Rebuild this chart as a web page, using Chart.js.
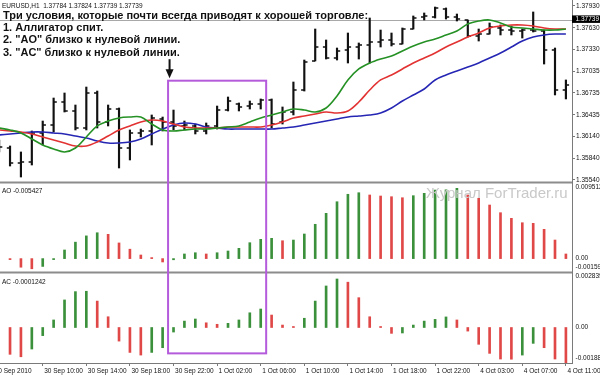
<!DOCTYPE html>
<html><head><meta charset="utf-8">
<script src="https://cdn.jsdelivr.net/npm/chart.js@4.4.1/dist/chart.umd.min.js"></script>
<style>
html,body{margin:0;padding:0;background:#fff;}
#wrap{position:relative;width:600px;height:375px;overflow:hidden;background:#fff;}
#c{position:absolute;left:0;top:0;}
.t{position:absolute;white-space:nowrap;font-family:'Liberation Sans',Arial,sans-serif;color:#000;}
.note{font-weight:bold;font-size:11px;line-height:11px;left:3px;color:#111;}
.small{font-size:6.5px;line-height:7px;color:#111;}
.wm{font-size:15px;line-height:15px;color:#c9c9c9;}
</style></head><body>
<div id="wrap">
<canvas id="c" width="600" height="375"></canvas>
<div class="t small" style="left:2px;top:2px">EURUSD,H1&nbsp; 1.37784 1.37824 1.37739 1.37739</div>
<div class="t note" style="top:10px">Три условия, которые почти всегда приводят к хорошей торговле:</div>
<div class="t note" style="top:21.5px">1. Аллигатор спит.</div>
<div class="t note" style="top:34px">2. "AO" близко к нулевой линии.</div>
<div class="t note" style="top:46.5px">3. "AC" близко к нулевой линии.</div>
<div class="t small" style="left:2px;top:187px">AO -0.005427</div>
<div class="t small" style="left:2px;top:278px">AC -0.0001242</div>
<div class="t wm" style="left:426px;top:185px">Журнал ForTrader.ru</div>
</div>
<script>
// ---------- data (bar index 0 = 30 Sep 06:00, hourly) ----------
const openPrices  = [1.36062,1.35980,1.35773,1.35787,1.36185,1.36295,1.36611,1.36488,1.36254,1.36735,1.36337,1.36515,1.35980,1.36185,1.36213,1.36378,1.36337,1.36282,1.36282,1.36213,1.36282,1.36501,1.36584,1.36556,1.36584,1.36639,1.36337,1.36474,1.36776,1.37175,1.37367,1.37216,1.37326,1.37367,1.37394,1.37435,1.37463,1.37408,1.37614,1.37779,1.37779,1.37889,1.37779,1.37738,1.37518,1.37545,1.37628,1.37600,1.37587,1.37600,1.37587,1.37326,1.36776];
const highPrices  = [1.36089,1.36007,1.35925,1.36213,1.36350,1.36666,1.36735,1.36570,1.36817,1.36762,1.36570,1.36529,1.36227,1.36240,1.36433,1.36405,1.36501,1.36350,1.36309,1.36323,1.36556,1.36680,1.36598,1.36625,1.36653,1.36653,1.36543,1.36886,1.37188,1.37614,1.37463,1.37353,1.37559,1.37422,1.37765,1.37600,1.37559,1.37628,1.37793,1.37834,1.37916,1.37903,1.37820,1.37738,1.37614,1.37697,1.37669,1.37655,1.37614,1.37848,1.37600,1.37353,1.36914];
const lowPrices   = [1.35925,1.35732,1.35581,1.35746,1.36021,1.36199,1.36474,1.36227,1.36227,1.36254,1.36282,1.35705,1.35815,1.36131,1.36021,1.36213,1.36227,1.36227,1.36172,1.36172,1.36240,1.36488,1.36488,1.36515,1.36515,1.36254,1.36309,1.36433,1.36762,1.37175,1.37202,1.37188,1.37147,1.37202,1.37147,1.37367,1.37381,1.37408,1.37614,1.37738,1.37765,1.37751,1.37724,1.37504,1.37449,1.37545,1.37532,1.37532,1.37490,1.37573,1.37133,1.36708,1.36653];
const closePrices = [1.35993,1.35773,1.35787,1.36185,1.36295,1.36611,1.36488,1.36254,1.36735,1.36337,1.36515,1.35980,1.36185,1.36213,1.36392,1.36337,1.36282,1.36295,1.36213,1.36282,1.36501,1.36625,1.36543,1.36584,1.36639,1.36309,1.36474,1.36776,1.37161,1.37367,1.37216,1.37312,1.37367,1.37394,1.37435,1.37463,1.37408,1.37614,1.37765,1.37793,1.37903,1.37779,1.37751,1.37518,1.37545,1.37642,1.37600,1.37587,1.37600,1.37587,1.37326,1.36776,1.36845];
const lipsGreen   = [1.36254,1.36227,1.36186,1.36103,1.36021,1.35966,1.35925,1.35979,1.36131,1.36282,1.36350,1.36392,1.36405,1.36405,1.36309,1.36227,1.36213,1.36227,1.36240,1.36240,1.36254,1.36268,1.36282,1.36337,1.36392,1.36433,1.36474,1.36515,1.36501,1.36474,1.36529,1.36694,1.36914,1.37065,1.37147,1.37202,1.37243,1.37312,1.37381,1.37435,1.37477,1.37532,1.37587,1.37683,1.37724,1.37738,1.37697,1.37642,1.37628,1.37614,1.37600,1.37600,1.37614];
const teethRed    = [1.36227,1.36213,1.36199,1.36172,1.36131,1.36089,1.36048,1.36007,1.36007,1.36062,1.36144,1.36227,1.36282,1.36337,1.36364,1.36350,1.36309,1.36268,1.36254,1.36254,1.36254,1.36268,1.36268,1.36268,1.36268,1.36295,1.36337,1.36392,1.36419,1.36447,1.36474,1.36460,1.36488,1.36611,1.36776,1.36914,1.36982,1.37065,1.37147,1.37216,1.37284,1.37367,1.37435,1.37504,1.37559,1.37628,1.37655,1.37669,1.37669,1.37655,1.37628,1.37614,1.37614];
const jawBlue     = [1.36158,1.36172,1.36186,1.36199,1.36199,1.36186,1.36172,1.36144,1.36117,1.36076,1.36048,1.36048,1.36062,1.36103,1.36172,1.36240,1.36295,1.36323,1.36309,1.36268,1.36254,1.36240,1.36240,1.36240,1.36240,1.36240,1.36254,1.36268,1.36295,1.36323,1.36350,1.36378,1.36405,1.36419,1.36433,1.36460,1.36529,1.36625,1.36708,1.36790,1.36914,1.36982,1.37037,1.37092,1.37147,1.37216,1.37284,1.37367,1.37449,1.37504,1.37532,1.37545,1.37545];
const aoValues    = [null,-0.0001,-0.0011,-0.0013,-0.0010,-0.0001,0.0011,0.0021,0.0029,0.0033,0.0031,0.0020,0.0012,0.00046,0.00002,-0.00043,-0.00015,0.00059,0.00075,0.00059,0.00075,0.00097,0.00131,0.00203,0.00246,0.00259,0.00228,0.00237,0.00314,0.00438,0.00578,0.00726,0.00821,0.00841,0.00812,0.00799,0.00790,0.00777,0.00803,0.00833,0.00875,0.00878,0.00897,0.00812,0.00770,0.00684,0.00586,0.00514,0.00458,0.00450,0.00374,0.00237,0.00059];
const acValues    = [null,-0.00142,-0.00155,-0.00114,-0.00043,0.00040,0.00146,0.00190,0.00192,0.00140,0.00057,-0.00072,-0.00132,-0.00146,-0.00132,-0.00107,-0.00024,0.00034,0.00045,0.00025,0.00017,0.00022,0.00040,0.00078,0.00098,0.00066,0.00013,0.00005,0.00049,0.00140,0.00220,0.00257,0.00240,0.00158,0.00057,0.00003,-0.00031,-0.00029,0.00013,0.00034,0.00043,0.00056,0.00040,-0.00019,-0.00089,-0.00137,-0.00167,-0.00168,-0.00146,-0.00084,-0.00107,-0.00167,-0.00188];
const priceTicks  = [1.35540,1.35840,1.36140,1.36435,1.36735,1.37035,1.37330,1.37630,1.37930];
const currentPrice = 1.37739;
const aoTickValues = [0.009512, 0, -0.00159];
const aoTickTexts  = ['0.009512', '0.00', '-0.00159'];
const acTickValues = [0.002839, 0, -0.00188];
const acTickTexts  = ['0.002839', '0.00', '-0.00188'];
const timeTickBars   = [-0.55, 4, 8, 12, 16, 20, 24, 28, 32, 36, 40, 44, 48, 52];
const timeTickLabels = ['30 Sep 2010','30 Sep 10:00','30 Sep 14:00','30 Sep 18:00','30 Sep 22:00','1 Oct 02:00','1 Oct 06:00','1 Oct 10:00','1 Oct 14:00','1 Oct 18:00','1 Oct 22:00','4 Oct 03:00','4 Oct 07:00','4 Oct 11:00'];
// highlighted zone: bars 15.5..24.5, from price 1.36904 down to AC -0.00137
const zoneBars = [15.5, 24.5];
const zoneTopPrice = 1.36904;
const zoneBottomAC = -0.00137;

// ---------- styling ----------
const GREEN_BAR = '#3b903b', RED_BAR = '#e04848';
const barColor = vals => vals.map((v, i) => (i > 0 && vals[i - 1] !== null && v > vals[i - 1]) ? GREEN_BAR : RED_BAR);
const pts = arr => arr.map((v, i) => ({x: i, y: v}));

Chart.defaults.font.family = "'Liberation Sans', Arial, sans-serif";
Chart.defaults.font.size = 6.5;
Chart.defaults.color = '#111';

const AXIS = '#7a7a7a';
const fixY = s => { s.width = 28; s.paddingTop = 0; s.paddingBottom = 0; };

const overlay = {
  id: 'overlay',
  beforeDatasetsDraw(chart) {
    const {ctx, chartArea: ca, scales: {x, y}} = chart;
    ctx.save();
    ctx.beginPath(); ctx.rect(ca.left, ca.top, ca.width, y.bottom - ca.top); ctx.clip();
    const yp = Math.round(y.getPixelForValue(currentPrice)) + 0.5;
    ctx.strokeStyle = '#a8a8a8'; ctx.lineWidth = 1;
    ctx.beginPath(); ctx.moveTo(ca.left, yp); ctx.lineTo(ca.right, yp); ctx.stroke();
    ctx.strokeStyle = '#111'; ctx.lineWidth = 1.5;
    for (let k = 0; k < openPrices.length; k++) {
      const px = x.getPixelForValue(k);
      const yo = y.getPixelForValue(openPrices[k]);
      const yc = y.getPixelForValue(closePrices[k]);
      ctx.beginPath();
      ctx.moveTo(px - 3.2, yo); ctx.lineTo(px, yo);
      ctx.moveTo(px, yc); ctx.lineTo(px + 3.2, yc);
      ctx.stroke();
    }
    ctx.restore();
  },
  afterDraw(chart) {
    const {ctx, chartArea: ca, scales: {x, y, ao, ac}} = chart;
    ctx.save();
    ctx.strokeStyle = '#8c8c8c'; ctx.lineWidth = 2;
    [y.bottom - 0.5, ao.bottom + 0.5].forEach(yy => {
      ctx.beginPath(); ctx.moveTo(0, yy); ctx.lineTo(ca.right, yy); ctx.stroke();
    });
    ctx.fillStyle = '#111'; ctx.font = "6.5px 'Liberation Sans', Arial, sans-serif";
    ctx.textBaseline = 'middle'; ctx.textAlign = 'left';
    const lab = (sc, vals, texts) => vals.forEach((v, i) => {
      let py = sc.getPixelForValue(v);
      py = Math.min(Math.max(py, sc.top + 4.5), sc.bottom - 4.5);
      ctx.fillText(texts[i], ca.right + 3.5, py);
    });
    lab(ao, aoTickValues, aoTickTexts);
    lab(ac, acTickValues, acTickTexts);
    const yp = y.getPixelForValue(currentPrice);
    ctx.fillStyle = '#000'; ctx.fillRect(ca.right, yp - 4.5, 28, 7.5);
    ctx.fillStyle = '#fff'; ctx.fillText(currentPrice.toFixed(5), ca.right + 3.5, yp - 0.7);
    const x1 = x.getPixelForValue(zoneBars[0]), x2 = x.getPixelForValue(zoneBars[1]);
    const y1 = y.getPixelForValue(zoneTopPrice), y2 = ac.getPixelForValue(zoneBottomAC);
    ctx.strokeStyle = '#b45bdc'; ctx.lineWidth = 2;
    ctx.strokeRect(x1, y1, x2 - x1, y2 - y1);
    const ax = x1 + 1.5, tip = y1 - 2.5;
    ctx.fillStyle = '#111'; ctx.strokeStyle = '#111'; ctx.lineWidth = 2;
    ctx.beginPath(); ctx.moveTo(ax, tip - 19); ctx.lineTo(ax, tip - 8); ctx.stroke();
    ctx.beginPath(); ctx.moveTo(ax - 4, tip - 9); ctx.lineTo(ax + 4, tip - 9); ctx.lineTo(ax, tip); ctx.closePath(); ctx.fill();
    ctx.restore();
  }
};

new Chart(document.getElementById('c'), {
  type: 'bar',
  data: {
    datasets: [
      {type: 'line', yAxisID: 'y', data: pts(lipsGreen), borderColor: '#259125', borderWidth: 1.6, pointRadius: 0, tension: 0.35, order: 1},
      {type: 'line', yAxisID: 'y', data: pts(teethRed), borderColor: '#e23232', borderWidth: 1.6, pointRadius: 0, tension: 0.35, order: 2},
      {type: 'line', yAxisID: 'y', data: pts(jawBlue), borderColor: '#2626b4', borderWidth: 1.6, pointRadius: 0, tension: 0.35, order: 3},
      {type: 'bar', yAxisID: 'y', data: highPrices.map((h, i) => ({x: i, y: [lowPrices[i], h]})), backgroundColor: '#111', barThickness: 1.5, grouped: false, order: 10},
      {type: 'bar', yAxisID: 'ao', data: pts(aoValues), backgroundColor: barColor(aoValues), barThickness: 2, grouped: false, minBarLength: 1, order: 4},
      {type: 'bar', yAxisID: 'ac', data: pts(acValues), backgroundColor: barColor(acValues), barThickness: 2, grouped: false, minBarLength: 1, order: 5}
    ]
  },
  options: {
    responsive: false, animation: false,
    layout: {padding: 0},
    plugins: {legend: {display: false}, tooltip: {enabled: false}, title: {display: false}},
    scales: {
      x: {
        type: 'linear', position: 'bottom', min: 0.08, max: 52.56, offset: false,
        afterBuildTicks: s => { s.ticks = timeTickBars.map(v => ({value: v})); },
        afterFit: s => { s.height = 12; s.paddingLeft = 0; s.paddingRight = 0; },
        ticks: {callback: (v, i) => timeTickLabels[i], align: 'start', labelOffset: 1.5, maxRotation: 0, autoSkip: false, padding: 1, color: '#111'},
        grid: {drawOnChartArea: false, tickLength: 3, color: AXIS, offset: false},
        border: {color: AXIS}
      },
      y: {
        position: 'right', stack: 'panels', stackWeight: 183,
        min: 1.354987, max: 1.380124,
        afterBuildTicks: s => { s.ticks = priceTicks.map(v => ({value: v})); },
        afterFit: fixY,
        ticks: {callback: v => v.toFixed(5), autoSkip: false, padding: 1, color: '#111'},
        grid: {drawOnChartArea: false, tickLength: 3, color: AXIS},
        border: {color: AXIS}
      },
      ao: {
        position: 'right', stack: 'panels', stackWeight: 89,
        min: -0.00171, max: 0.00965,
        afterFit: fixY,
        ticks: {display: false}, grid: {display: false},
        border: {display: true, color: AXIS}
      },
      ac: {
        position: 'right', stack: 'panels', stackWeight: 91,
        min: -0.00188, max: 0.00294,
        afterFit: fixY,
        ticks: {display: false}, grid: {display: false},
        border: {display: true, color: AXIS}
      }
    }
  },
  plugins: [overlay]
});
</script>
</body></html>
